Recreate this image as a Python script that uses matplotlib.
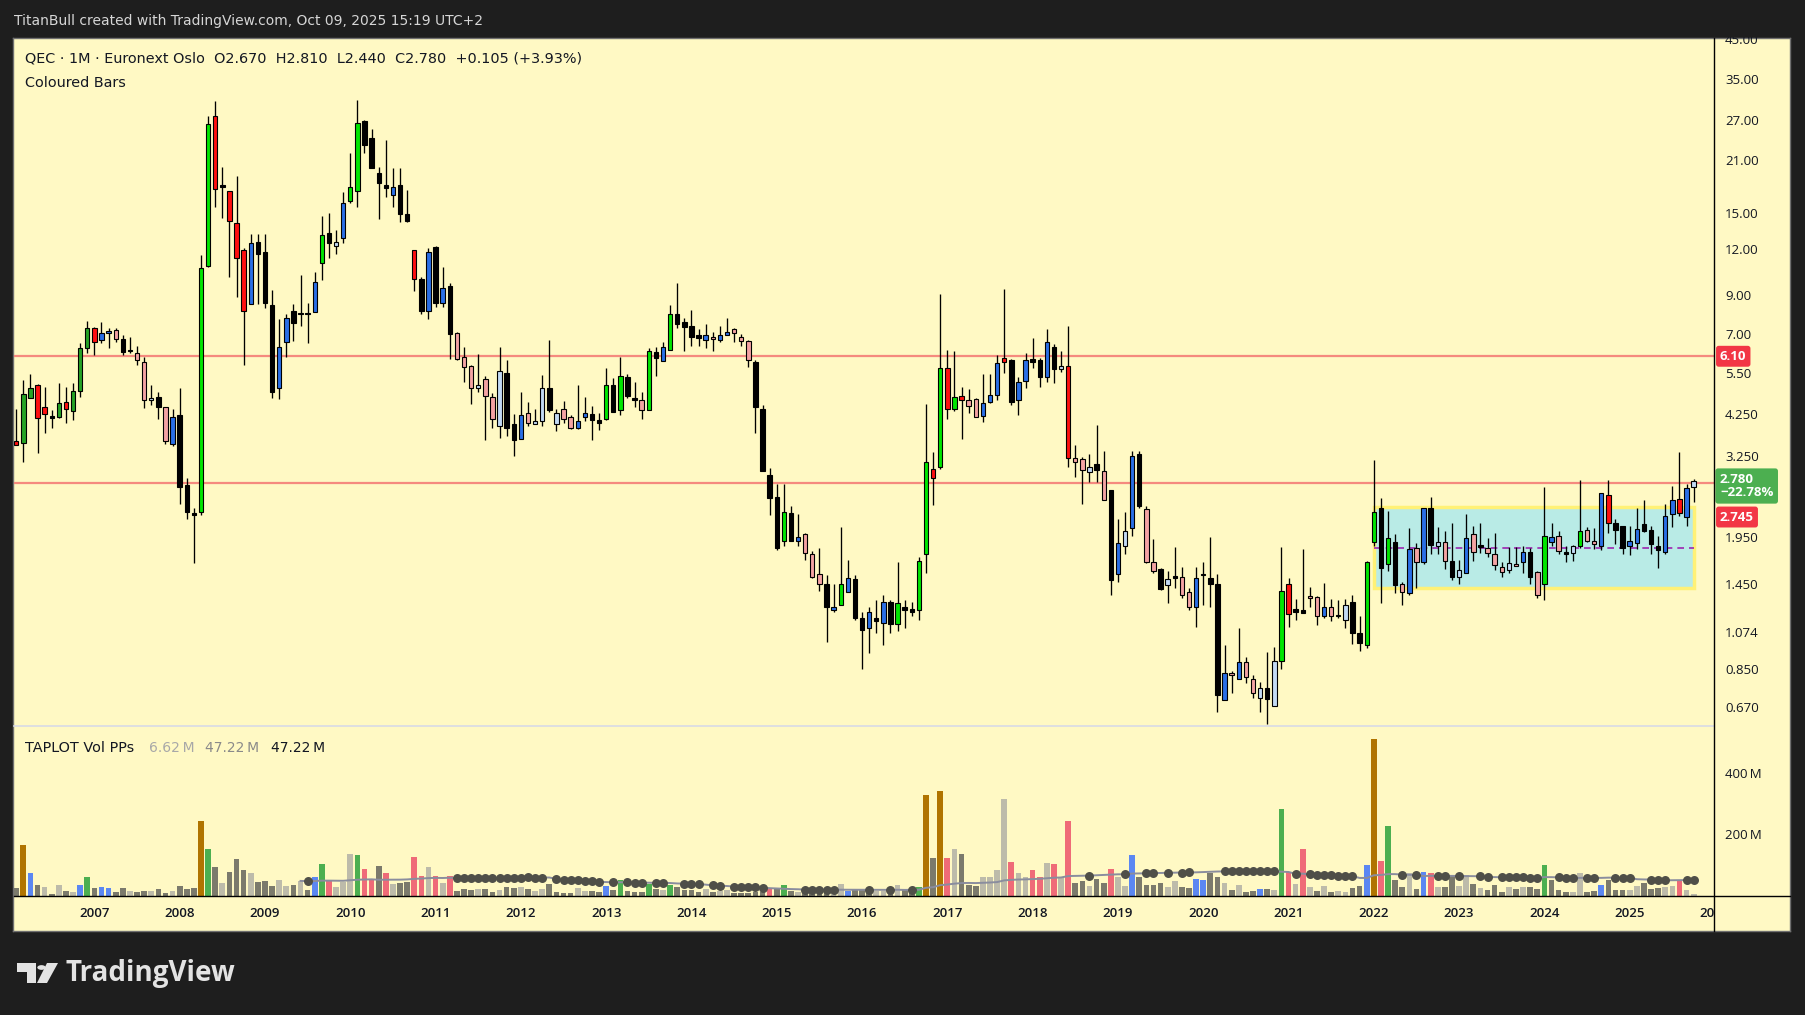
import numpy as np
import pandas as pd
import matplotlib
matplotlib.use("Agg")
import matplotlib.pyplot as plt
from matplotlib.patches import Rectangle, Polygon, Circle
from matplotlib.transforms import blended_transform_factory
from matplotlib.lines import Line2D

plt.rcParams['font.family'] = ['Open Sans', 'DejaVu Sans']

# ---------------- data (monthly bars, Feb 2006 .. Oct 2025) ----------------
months = pd.period_range("2006-02", "2025-10", freq="M")

open_ = [3.58, 3.53, 4.68, 5.09, 4.42, 4.18, 4.17, 4.57, 4.31, 4.89, 6.43,
         7.28, 6.76, 7.05, 7.19, 6.79, 6.34, 6.24, 5.87, 4.62, 4.71, 4.42, 3.50,
         4.21, 2.71, 2.27, 2.28, 10.75, 27.8, 17.9, 17.25, 14.1, 11.89, 8.46, 12.51,
         11.77, 8.41, 4.99, 6.66, 8.10, 8.02, 8.02, 8.05, 10.96, 13.24, 12.2, 12.83,
         16.2, 17.25, 26.8, 24.08, 19.32, 17.91, 16.82, 17.91, 14.93, 11.89, 9.91, 8.12,
         12.12, 8.55, 9.50, 7.05, 6.06, 5.74, 4.99, 5.28, 4.71, 3.94, 5.48, 3.97,
         3.63, 4.26, 3.97, 4.06, 4.99, 3.99, 4.37, 4.15, 3.89, 4.17, 4.24, 4.08,
         4.12, 5.08, 4.36, 5.34, 4.68, 4.62, 4.34, 6.25, 5.91, 6.33, 7.95, 7.56,
         7.37, 6.96, 6.75, 6.88, 6.75, 6.96, 7.23, 6.88, 6.70, 5.87, 4.37, 2.88,
         2.51, 1.91, 2.27, 1.90, 1.99, 1.75, 1.55, 1.45, 1.23, 1.27, 1.38, 1.50,
         1.17, 1.10, 1.17, 1.14, 1.30, 1.13, 1.26, 1.24, 1.23, 1.76, 2.99, 3.03,
         5.66, 4.37, 4.75, 4.62, 4.65, 4.18, 4.57, 4.77, 6.05, 5.95, 4.62, 5.21,
         5.99, 5.95, 5.34, 6.46, 5.62, 5.73, 3.21, 3.19, 2.94, 3.09, 2.96, 2.62,
         1.55, 1.85, 2.07, 3.29, 2.33, 1.67, 1.60, 1.44, 1.53, 1.52, 1.38, 1.26,
         1.55, 1.51, 1.45, 0.70, 0.83, 0.80, 0.89, 0.80, 0.71, 0.756, 0.675, 0.894,
         1.45, 1.24, 1.23, 1.345, 1.34, 1.19, 1.255, 1.195, 1.157, 1.30, 1.07, 0.99,
         1.89, 2.34, 1.65, 1.89, 1.45, 1.37, 1.82, 1.67, 2.34, 1.85, 1.89, 1.68,
         1.52, 1.56, 1.99, 1.86, 1.82, 1.76, 1.62, 1.59, 1.65, 1.67, 1.78, 1.57,
         1.45, 1.89, 1.97, 1.78, 1.77, 1.85, 2.04, 1.91, 1.85, 2.55, 2.13, 2.09,
         1.85, 1.88, 2.12, 2.04, 1.85, 1.78, 2.26, 2.48, 2.21, 2.67]

high = [4.38, 5.25, 5.46, 5.12, 5.04, 4.35, 5.15, 5.03, 5.15, 6.62, 7.62,
        7.35, 7.56, 7.28, 7.28, 6.98, 6.90, 6.52, 6.06, 5.08, 4.86, 4.44, 4.37,
        4.99, 2.83, 2.35, 11.55, 27.7, 30.5, 20.1, 17.3, 19.0, 12.04, 13.18, 13.18,
        13.18, 9.26, 7.72, 7.95, 8.48, 10.18, 8.52, 10.35, 14.77, 15.02, 13.51, 17.21,
        21.9, 30.65, 27.1, 25.5, 20.06, 23.78, 19.93, 19.93, 17.39, 11.89, 10.07, 12.04,
        12.24, 10.73, 9.70, 7.12, 6.48, 5.78, 6.19, 5.39, 4.83, 6.48, 5.96, 4.24,
        4.86, 4.57, 4.38, 5.42, 6.76, 4.38, 4.60, 4.21, 5.09, 4.73, 4.46, 4.27,
        5.66, 5.31, 6.09, 5.46, 5.18, 4.86, 6.43, 6.46, 6.66, 8.43, 9.68, 7.78,
        8.16, 7.24, 7.46, 7.09, 7.37, 7.75, 7.28, 7.01, 6.77, 5.96, 4.49, 3.02,
        2.73, 2.73, 2.38, 2.26, 2.00, 1.79, 1.82, 1.54, 1.45, 2.08, 1.69, 1.54,
        1.22, 1.26, 1.31, 1.36, 1.31, 1.67, 1.31, 1.30, 1.72, 4.51, 3.33, 9.03,
        6.33, 6.30, 5.02, 4.96, 4.68, 5.44, 5.44, 6.15, 9.30, 5.99, 5.34, 6.22,
        6.83, 6.02, 7.23, 6.59, 6.30, 7.39, 3.49, 3.24, 3.29, 3.95, 3.36, 2.63,
        2.19, 2.28, 3.35, 3.36, 2.37, 1.93, 1.61, 1.58, 1.84, 1.62, 1.42, 1.62,
        1.67, 1.95, 1.55, 0.99, 0.84, 1.10, 0.92, 0.82, 0.786, 0.946, 0.98, 1.84,
        1.51, 1.32, 1.81, 1.43, 1.345, 1.46, 1.32, 1.31, 1.32, 1.36, 1.19, 1.68,
        3.18, 2.50, 2.30, 1.99, 1.47, 2.07, 1.88, 2.35, 2.51, 2.08, 2.03, 2.13,
        1.69, 2.26, 2.10, 2.14, 1.94, 2.00, 1.67, 1.84, 1.84, 1.85, 1.82, 1.58,
        2.67, 2.14, 2.03, 1.85, 1.86, 2.80, 2.08, 2.07, 2.58, 2.80, 2.19, 2.10,
        2.09, 2.34, 2.46, 2.09, 1.97, 2.40, 2.69, 3.33, 2.72, 2.81]

low = [3.49, 3.14, 4.68, 3.31, 3.76, 3.88, 4.13, 4.00, 4.08, 4.73, 6.22,
       6.15, 6.62, 6.42, 6.66, 6.14, 6.22, 5.78, 4.40, 4.49, 4.10, 3.50, 3.46,
       2.40, 2.19, 1.66, 2.25, 10.69, 15.6, 14.6, 10.07, 8.88, 5.78, 8.46, 8.48,
       8.25, 4.70, 4.65, 6.09, 6.73, 7.38, 6.62, 8.05, 9.86, 11.31, 11.6, 12.48,
       15.99, 15.66, 22.0, 20.0, 14.52, 16.61, 15.66, 14.24, 14.2, 9.22, 7.95, 7.72,
       8.31, 8.31, 5.99, 5.96, 5.20, 4.52, 4.88, 3.59, 3.88, 3.64, 3.69, 3.26,
       3.63, 3.92, 3.97, 3.92, 4.29, 3.80, 4.00, 3.87, 3.85, 4.06, 3.59, 3.83,
       4.08, 4.29, 4.21, 4.70, 4.44, 4.12, 4.34, 5.40, 5.91, 6.33, 7.30, 6.31,
       6.52, 6.52, 6.41, 6.31, 6.69, 6.96, 6.69, 6.52, 5.69, 3.76, 2.97, 2.25,
       1.80, 1.85, 1.90, 1.85, 1.69, 1.51, 1.39, 1.01, 1.22, 1.27, 1.38, 1.16,
       0.85, 0.94, 1.07, 0.99, 1.07, 1.08, 1.10, 1.19, 1.16, 1.56, 2.39, 2.99,
       4.12, 4.31, 3.63, 4.27, 4.15, 4.04, 4.54, 4.62, 5.48, 4.48, 4.22, 4.99,
       5.68, 5.02, 5.18, 5.15, 5.51, 3.04, 2.86, 2.40, 2.76, 2.76, 2.46, 1.36,
       1.47, 1.76, 1.96, 2.35, 1.66, 1.56, 1.40, 1.29, 1.42, 1.33, 1.23, 1.11,
       1.27, 1.26, 0.65, 0.70, 0.73, 0.80, 0.78, 0.71, 0.65, 0.60, 0.675, 0.85,
       1.11, 1.16, 1.21, 1.255, 1.12, 1.17, 1.15, 1.17, 1.10, 0.995, 0.95, 0.97,
       1.85, 1.29, 1.58, 1.37, 1.27, 1.36, 1.42, 1.65, 1.76, 1.76, 1.60, 1.49,
       1.45, 1.56, 1.68, 1.77, 1.72, 1.59, 1.52, 1.56, 1.63, 1.56, 1.45, 1.33,
       1.31, 1.85, 1.75, 1.67, 1.68, 1.82, 1.89, 1.81, 1.80, 2.00, 1.87, 1.76,
       1.74, 1.81, 2.02, 1.75, 1.61, 1.75, 2.08, 2.23, 2.10, 2.44]

close = [3.49, 4.81, 4.99, 4.13, 4.24, 4.14, 4.54, 4.37, 4.89, 6.42, 7.28,
         6.66, 7.05, 7.15, 6.79, 6.28, 6.32, 5.96, 4.62, 4.68, 4.42, 3.57, 4.15,
         2.68, 2.28, 2.25, 10.66, 26.3, 17.5, 17.7, 14.28, 11.31, 8.10, 12.45, 11.6,
         8.55, 4.88, 6.46, 7.75, 7.51, 7.98, 7.98, 9.72, 13.07, 12.43, 12.51, 15.99,
         17.69, 26.46, 23.04, 20.0, 18.14, 17.58, 17.75, 14.93, 14.28, 9.91, 8.10, 11.75,
         8.55, 9.36, 7.03, 6.01, 5.69, 4.99, 5.09, 4.76, 4.12, 5.55, 3.89, 3.61,
         4.21, 4.01, 4.06, 4.99, 4.35, 4.28, 4.12, 3.89, 4.05, 4.28, 4.09, 4.01,
         5.08, 4.29, 5.38, 4.76, 4.64, 4.36, 6.30, 6.02, 6.46, 7.95, 7.46, 7.35,
         6.88, 6.84, 6.96, 6.79, 6.96, 7.09, 7.05, 6.70, 5.95, 4.44, 2.97, 2.50,
         1.82, 2.28, 1.90, 1.95, 1.77, 1.52, 1.45, 1.26, 1.26, 1.45, 1.51, 1.17,
         1.09, 1.22, 1.15, 1.30, 1.13, 1.29, 1.23, 1.22, 1.68, 3.13, 2.83, 5.66,
         4.37, 4.71, 4.62, 4.45, 4.15, 4.54, 4.77, 5.83, 5.87, 4.57, 5.18, 5.95,
         5.87, 5.36, 6.66, 5.62, 5.73, 3.21, 3.13, 2.98, 3.03, 2.98, 2.46, 1.49,
         1.88, 2.03, 3.25, 2.37, 1.67, 1.58, 1.41, 1.50, 1.51, 1.36, 1.26, 1.51,
         1.54, 1.45, 0.72, 0.83, 0.82, 0.89, 0.81, 0.73, 0.756, 0.706, 0.894, 1.39,
         1.20, 1.22, 1.21, 1.33, 1.19, 1.255, 1.19, 1.185, 1.27, 1.07, 1.00, 1.67,
         2.28, 1.61, 1.94, 1.44, 1.38, 1.81, 1.67, 2.34, 1.86, 1.89, 1.68, 1.52,
         1.59, 1.94, 1.78, 1.84, 1.77, 1.64, 1.57, 1.66, 1.63, 1.78, 1.52, 1.36,
         1.97, 1.95, 1.79, 1.76, 1.85, 2.03, 1.91, 1.87, 2.57, 2.14, 2.04, 1.82,
         1.90, 2.05, 2.03, 1.87, 1.80, 2.23, 2.46, 2.27, 2.66, 2.78]

# "Coloured Bars" state per bar: G bright green, D dark green, R red, P pink,
# B blue, L light blue, K black
candle_state = ("RDDRRKDRDDD"
                "RBBPKKPPLKPB" "KKKGGRKRRRBK" "KKBBKKKBGKLB" "GGKKKKBKKRKB"
                "KBKPPPLPPLKK" "BPLLKLPPBBKK" "GKGKKPGKBGKK" "KKBPBBPPPKKK"
                "KGKBPPPKBGBK" "KBKBKGKKGGRG" "RGRPPBBBRKBB" "KKBKLRPPLKPK"
                "BLBKPPKLKPPB" "KKKBPBPPLKLG" "RKKPPBPKLKKG" "GKGKPBPBKLPK"
                "LBPKPPPLPBKP" "GBPKLGPPBRKK" "BBKKKBBRBL")

# volume in millions of shares
volume_m = [26, 165, 76, 36, 30, 8, 36, 17, 13, 36, 60,
            26, 30, 26, 13, 26, 17, 13, 17, 17, 23, 10, 17,
            33, 23, 26, 242, 152, 93, 43, 79, 119, 83, 73, 46,
            50, 33, 53, 33, 36, 50, 20, 60, 103, 53, 30, 46,
            136, 132, 86, 56, 96, 76, 40, 43, 46, 126, 66, 93,
            66, 43, 66, 17, 23, 20, 23, 23, 13, 20, 30, 26,
            30, 23, 17, 23, 40, 13, 10, 10, 26, 17, 17, 13,
            33, 20, 53, 17, 13, 13, 40, 23, 20, 36, 30, 20,
            20, 13, 23, 13, 17, 20, 10, 10, 10, 13, 13, 23,
            23, 36, 17, 13, 10, 13, 13, 13, 13, 40, 17, 20,
            20, 20, 17, 17, 20, 36, 20, 20, 30, 328, 122, 341,
            122, 152, 136, 36, 33, 60, 60, 83, 314, 109, 73, 63,
            83, 60, 106, 103, 60, 242, 43, 50, 33, 56, 43, 89,
            63, 33, 132, 63, 36, 36, 43, 30, 50, 30, 26, 56,
            53, 73, 63, 43, 20, 36, 13, 17, 23, 23, 20, 281,
            79, 40, 152, 30, 17, 33, 13, 17, 13, 26, 33, 99,
            510, 113, 228, 53, 30, 76, 23, 79, 73, 30, 30, 66,
            33, 69, 40, 26, 20, 36, 13, 30, 23, 30, 30, 23,
            99, 53, 20, 13, 13, 73, 13, 17, 36, 53, 20, 20,
            20, 33, 43, 23, 26, 30, 33, 50, 20, 6.62]

# volume bar class: o climax (gold), g green, b blue, r red, d dark grey, l light grey
volume_state = ("dobdldldlbg"
                "dbbddlddlddl" "dddogdldddld" "ddlldldbgrll" "lgrrdrlddrrl"
                "rlrdddlddldd" "ldllddddlldd" "bdgdddgdlgdd" "ddldlldddddr"
                "dgdlddddllbd" "ddlldlddgodo" "rldddllllrll" "rrlrlrddlddr"
                "llbddddllddb" "bddldlddbdlg" "rlrldldllddb" "orgddldbrldd"
                "lldldddldldd" "gdddllddbddd" "lldddllrll")

# bars flagged with a dot on the volume average (bar index from Feb 2006)
dot_bars = ([41] + list(range(62, 75)) + list(range(76, 83)) + [84, 86, 87, 88, 90, 91,
            94, 95, 96, 98, 99] + list(range(101, 106)) + list(range(111, 116)) +
            [120, 123, 126, 151, 156, 159, 160, 162, 164, 165] + list(range(170, 178)) +
            [180] + list(range(182, 189)) + [195, 197, 200, 201, 203, 206, 207] +
            list(range(209, 215)) + [217, 218, 219, 221, 222, 225, 226, 227,
            230, 231, 232, 235, 236])
vol_ma_len = 50

levels = [6.10, 2.745]
box_top, box_mid, box_bottom = 2.357, 1.826, 1.415
box_start, box_end = pd.Period("2022-01", "M"), pd.Period("2025-10", "M")

price_ticks = [45, 35, 27, 21, 15, 12, 9, 7, 5.5, 4.25, 3.25, 1.95, 1.45, 1.074, 0.85, 0.67]
price_tick_labels = ["45.00", "35.00", "27.00", "21.00", "15.00", "12.00", "9.00", "7.00",
                     "5.50", "4.250", "3.250", "1.950", "1.450", "1.074", "0.850", "0.670"]
vol_ticks = [200, 400]
vol_tick_labels = ["200\u2009M", "400\u2009M"]

# ---------------- styling ----------------
W, H = 1805, 1015
BG = "#fff9c4"
FRAME = "#1e1e1e"
TXT = "#131722"
LEG_FONT = ["DejaVu Sans"]
LEG_SIZE = 10.4
candle_cmap = {"G": "#00e600", "D": "#26a326", "R": "#ff1010", "P": "#f4a3a3",
               "B": "#2a6fe6", "L": "#c3dbf5", "K": "#000000"}
vol_cmap = {"o": "#b07400", "g": "#4caf50", "b": "#5b87f2", "r": "#ef6b78",
            "d": "#7b7a6c", "l": "#bdbbaa"}


def rect(x0, y0, x1, y1):
    return [x0 / W, 1 - y1 / H, (x1 - x0) / W, (y1 - y0) / H]


fig = plt.figure(figsize=(W / 100, H / 100), dpi=100)
fig.patch.set_facecolor(FRAME)

ax_bg = fig.add_axes(rect(13, 38, 1790, 931))
ax_bg.set_facecolor(BG)
ax_bg.set_xticks([]); ax_bg.set_yticks([])
for s in ax_bg.spines.values():
    s.set_color("#707070"); s.set_linewidth(1)
ax_bg.set_zorder(-5)

n = len(months)
x = np.arange(n)
XLIM = (-0.31, 238.86)

# ---- price pane ----
ax = fig.add_axes(rect(14, 38, 1714, 726))
ax.set_facecolor("none")
ax.set_yscale("log")
ax.set_ylim(0.594, 45.3)
ax.set_xlim(*XLIM)
ax.yaxis.set_minor_locator(matplotlib.ticker.NullLocator())
ax.yaxis.tick_right()
ax.set_yticks(price_ticks)
ax.set_yticklabels(price_tick_labels)
ax.tick_params(axis="y", length=0, pad=8, labelsize=9.5, labelcolor=TXT)
ax.set_xticks([])
for side in ("left", "top"):
    ax.spines[side].set_visible(False)
ax.spines["right"].set_visible(False)
ax.spines["bottom"].set_color("#d8dae6")
ax.spines["bottom"].set_linewidth(1.2)

o = np.array(open_); c = np.array(close)
body_lo = np.minimum(o, c); body_hi = np.maximum(o, c)
ax.vlines(x, low, high, color="black", lw=0.95, zorder=3)
ax.bar(x, body_hi - body_lo, bottom=body_lo, width=0.62,
       color=[candle_cmap[s] for s in candle_state], edgecolor="black",
       linewidth=0.8, zorder=4)

for lv in levels:
    ax.axhline(lv, color="#f58a7e", lw=1.6, zorder=2)

i0 = (box_start - months[0]).n
i1 = (box_end - months[0]).n
ax.add_patch(Rectangle((i0, box_bottom), i1 - i0, box_top - box_bottom,
                       facecolor="#b9ebe6", edgecolor="#fff176", lw=2.5, zorder=1))
ax.hlines(box_mid, i0, i1, colors="#9c27b0", linestyles=(0, (4, 3)), lw=1.2, zorder=2)

trans_r = blended_transform_factory(ax.transAxes, ax.transData)
ax.annotate("6.10", xy=(1, 6.10), xycoords=trans_r, xytext=(6, 0),
            textcoords="offset pixels", ha="left", va="center", color="white",
            fontsize=9.5, fontweight="bold",
            bbox=dict(boxstyle="round,pad=0.3,rounding_size=0.2", fc="#f23645", ec="none"),
            annotation_clip=False)
ax.annotate("2.780\n\u221222.78%", xy=(1, 2.78), xycoords=trans_r, xytext=(6, 8),
            textcoords="offset pixels", ha="left", va="top", color="white",
            fontsize=9.5, fontweight="bold", linespacing=1.0,
            bbox=dict(boxstyle="round,pad=0.35,rounding_size=0.2", fc="#4caf50", ec="none"),
            annotation_clip=False)
ax.annotate("2.745", xy=(1, 2.745), xycoords=trans_r, xytext=(6, -34),
            textcoords="offset pixels", ha="left", va="center", color="white",
            fontsize=9.5, fontweight="bold",
            bbox=dict(boxstyle="round,pad=0.3,rounding_size=0.2", fc="#f23645", ec="none"),
            annotation_clip=False)

# ---- volume pane ----
axv = fig.add_axes(rect(14, 726, 1714, 896))
axv.set_facecolor("none")
axv.set_xlim(*XLIM)
axv.set_ylim(0, 170 * 3.24)
axv.bar(x, volume_m, width=0.8, color=[vol_cmap[s] for s in volume_state], zorder=2)
vol_ma = pd.Series(volume_m).rolling(vol_ma_len, min_periods=41).mean()
axv.plot(x, vol_ma, color="#8a8d9e", lw=1.4, zorder=3)
axv.scatter(dot_bars, vol_ma.iloc[dot_bars], s=42, color="#4f4f48", zorder=4, linewidths=0)
axv.yaxis.tick_right()
axv.set_yticks(vol_ticks)
axv.set_yticklabels(vol_tick_labels)
axv.tick_params(axis="y", length=0, pad=8, labelsize=9.5, labelcolor=TXT)
axv.set_xticks([])
for s in axv.spines.values():
    s.set_visible(False)

# ---- time axis ----
axt = fig.add_axes(rect(14, 896, 1714, 931))
axt.set_facecolor("none")
axt.set_xlim(*XLIM); axt.set_ylim(0, 1)
axt.axis("off")
for i, m in enumerate(months):
    if m.month == 1:
        axt.text(i, 0.5, str(m.year), ha="center", va="center", fontsize=9.5,
                 color=TXT, fontweight="semibold", clip_on=True)
i_next = (pd.Period("2026-01", "M") - months[0]).n
axt.text(i_next, 0.5, "2026", ha="center", va="center", fontsize=9.5,
         color=TXT, fontweight="semibold", clip_on=True)

# separator lines
fig.add_artist(Line2D([1714 / W, 1714 / W], [1 - 931 / H, 1 - 38 / H], color="black", lw=1.0))
fig.add_artist(Line2D([14 / W, 1790 / W], [1 - 896 / H, 1 - 896 / H], color="black", lw=1.0))

# ---- header / legends ----
fig.add_artist(Rectangle((0, 1 - 37 / H), 1, 37 / H, transform=fig.transFigure,
                         facecolor=FRAME, edgecolor="none", zorder=20))
fig.text(14 / W, 1 - 21 / H, "TitanBull created with TradingView.com, Oct 09, 2025 15:19 UTC+2",
         color="#d6d6d6", fontsize=10, va="center", ha="left", zorder=21, family=LEG_FONT)
fig.text(25 / W, 1 - 59 / H,
         "QEC \u00b7 1M \u00b7 Euronext Oslo  O2.670  H2.810  L2.440  C2.780  +0.105 (+3.93%)",
         color=TXT, fontsize=LEG_SIZE, va="center", ha="left", family=LEG_FONT)
fig.text(25 / W, 1 - 83 / H, "Coloured Bars", color=TXT, fontsize=LEG_SIZE, va="center",
         ha="left", family=LEG_FONT)
fig.text(25 / W, 1 - 748 / H, "TAPLOT Vol PPs", color=TXT, fontsize=LEG_SIZE, va="center",
         ha="left", family=LEG_FONT)
fig.text(149 / W, 1 - 748 / H, "6.62\u2009M", color="#a8a8a8", fontsize=10, va="center",
         ha="left", family=LEG_FONT)
fig.text(205 / W, 1 - 748 / H, "47.22\u2009M", color="#8a8a8a", fontsize=10, va="center",
         ha="left", family=LEG_FONT)
fig.text(271 / W, 1 - 748 / H, "47.22\u2009M", color=TXT, fontsize=10, va="center", ha="left",
         family=LEG_FONT)

# ---- TradingView logo ----
LOGO = "#e3e3e3"
def P(px, py):
    return (px / W, 1 - py / H)
fig.add_artist(Polygon([P(17, 963), P(36, 963), P(36, 983), P(27, 983), P(27, 972), P(17, 972)],
                       closed=True, transform=fig.transFigure, facecolor=LOGO, edgecolor="none"))
fig.add_artist(Circle(P(41.5, 967.5), 4.2 / W, transform=fig.transFigure, facecolor=LOGO,
                      edgecolor="none"))
fig.add_artist(Polygon([P(47, 963), P(58, 963), P(47, 983), P(37, 983)],
                       closed=True, transform=fig.transFigure, facecolor=LOGO, edgecolor="none"))
fig.text(66 / W, 1 - 973 / H, "TradingView", color=LOGO, fontsize=20, fontweight="bold",
         va="center", ha="left")

fig.savefig("out.png", dpi=100, facecolor=FRAME)
